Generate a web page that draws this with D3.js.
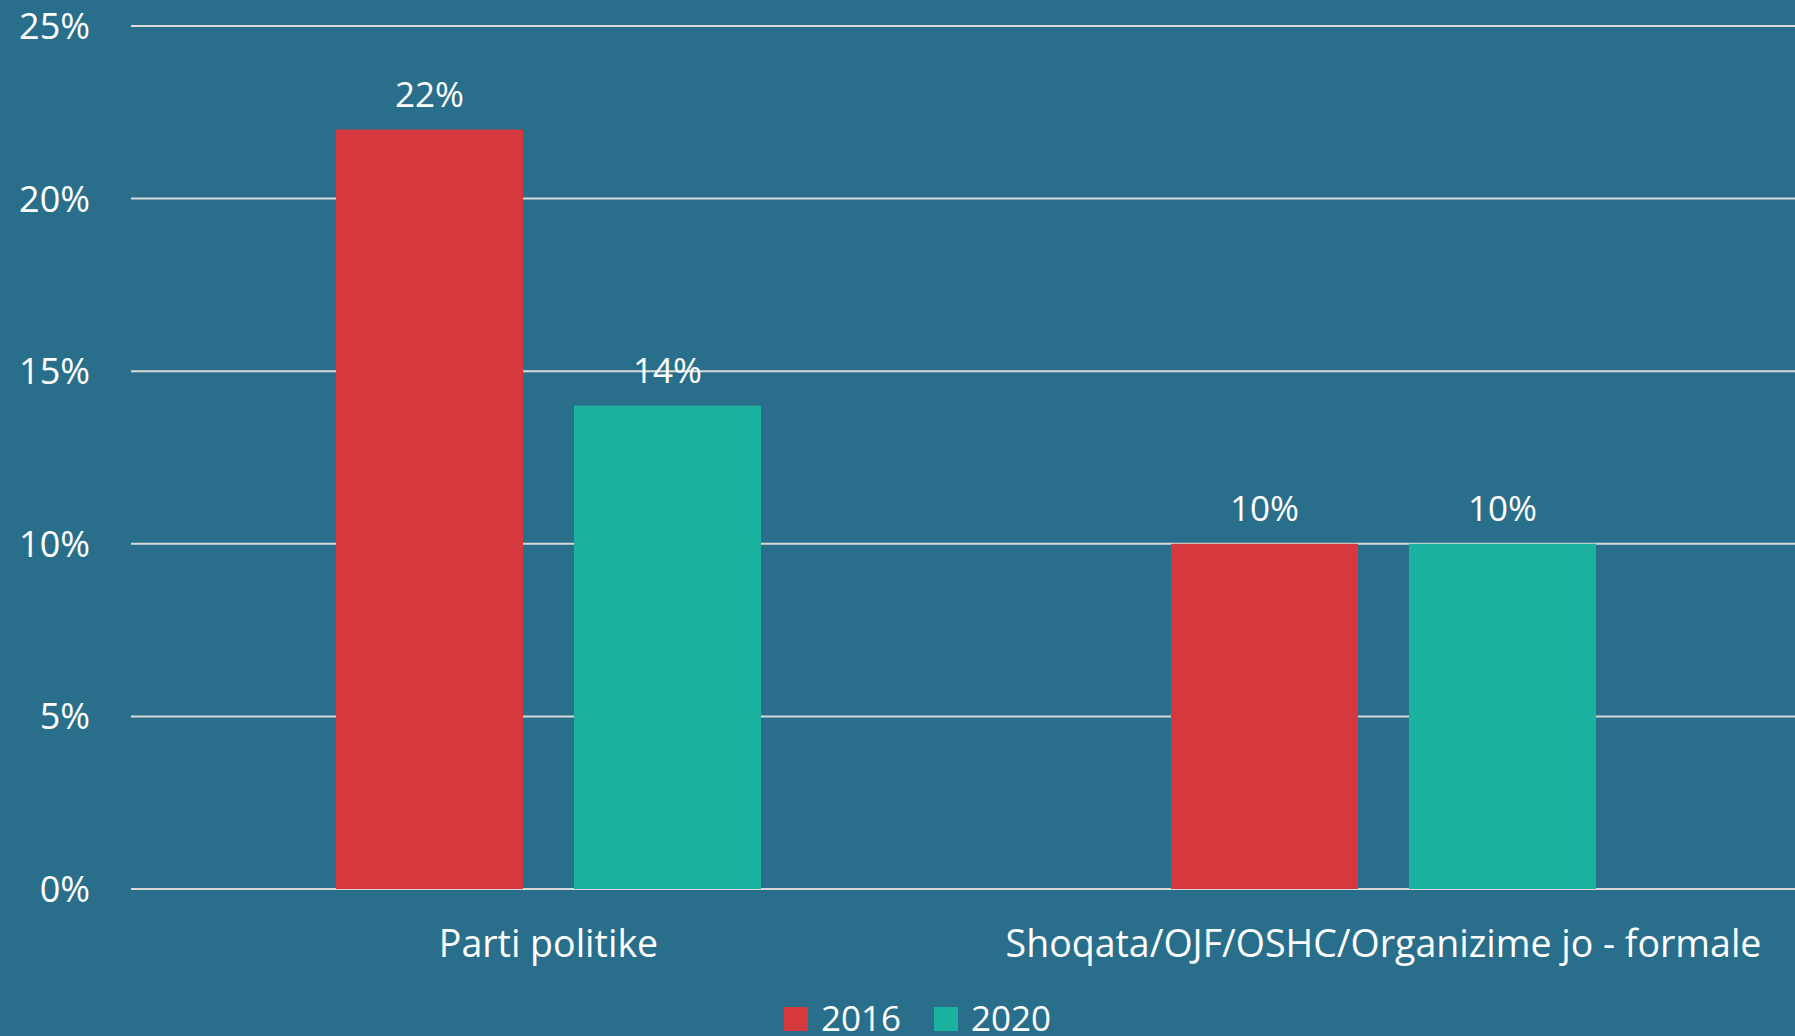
<!DOCTYPE html>
<html>
<head>
<meta charset="utf-8">
<script src="https://cdn.jsdelivr.net/npm/d3@7"></script>
<style>
  html, body { margin: 0; padding: 0; background: #296f8b; overflow: hidden; }
  svg { display: block; font-family: 'Open Sans', sans-serif; }
  .tick-label, .value-label, .cat-label, .legend-label { fill: #ffffff; }
</style>
</head>
<body>
<script>
const categories = ['Parti politike', 'Shoqata/OJF/OSHC/Organizime jo - formale'];
const series = ['2016', '2020'];
const values2016 = [22, 10];
const values2020 = [14, 10];
const yTicks = [0, 5, 10, 15, 20, 25];
const colors = ['#d5393e', '#1bb3a0'];

const width = 1795;
const height = 1036;

const svg = d3.select('body')
  .append('svg')
    .attr('width', width)
    .attr('height', height);

svg.append('rect')
  .attr('width', width)
  .attr('height', height)
  .attr('fill', '#296f8b');

const yScale = d3.scaleLinear()
  .domain([0, 25])
  .range([889, 26]);

const x0 = d3.scaleBand()
  .domain(categories)
  .range([131, 1801]);

const groupPad = (x0.bandwidth() - 425) / 2;
const x1 = d3.scaleBand()
  .domain(series)
  .range([groupPad, x0.bandwidth() - groupPad])
  .paddingInner(0.214);

// grid lines
svg.append('g')
  .selectAll('line')
  .data(yTicks)
  .enter()
  .append('line')
    .attr('x1', 131)
    .attr('x2', width)
    .attr('y1', d => yScale(d))
    .attr('y2', d => yScale(d))
    .attr('stroke', '#d9d9d9')
    .attr('stroke-width', 2);

// y labels
svg.append('g')
  .selectAll('text')
  .data(yTicks)
  .enter()
  .append('text')
    .attr('class', 'tick-label')
    .attr('x', 90)
    .attr('y', d => yScale(d) + 13)
    .attr('text-anchor', 'end')
    .attr('font-size', 36)
    .text(d => `${d}%`);

const rows = categories.map((c, i) => ({
  category: c,
  vals: [values2016[i], values2020[i]]
}));

const groups = svg.append('g')
  .selectAll('g')
  .data(rows)
  .enter()
  .append('g')
    .attr('transform', d => `translate(${x0(d.category)},0)`);

groups.selectAll('rect')
  .data(d => d.vals.map((v, j) => ({ key: series[j], value: v, j })))
  .enter()
  .append('rect')
    .attr('x', d => x1(d.key))
    .attr('y', d => yScale(d.value))
    .attr('width', x1.bandwidth())
    .attr('height', d => yScale(0) - yScale(d.value))
    .attr('fill', d => colors[d.j]);

groups.selectAll('text.value-label')
  .data(d => d.vals.map((v, j) => ({ key: series[j], value: v })))
  .enter()
  .append('text')
    .attr('class', 'value-label')
    .attr('x', d => x1(d.key) + x1.bandwidth() / 2)
    .attr('y', d => yScale(d.value) - 23)
    .attr('text-anchor', 'middle')
    .attr('font-size', 35)
    .text(d => `${d.value}%`);

// category labels
svg.append('g')
  .selectAll('text')
  .data(categories)
  .enter()
  .append('text')
    .attr('class', 'cat-label')
    .attr('x', d => x0(d) + x0.bandwidth() / 2)
    .attr('y', 957)
    .attr('text-anchor', 'middle')
    .attr('font-size', 37.5)
    .text(d => d);

// legend
const legendX = [784, 934];
const legend = svg.append('g')
  .selectAll('g')
  .data(series)
  .enter()
  .append('g')
    .attr('transform', (d, i) => `translate(${legendX[i]},1007)`);

legend.append('rect')
  .attr('width', 24)
  .attr('height', 24)
  .attr('fill', (d, i) => colors[i]);

legend.append('text')
  .attr('class', 'legend-label')
  .attr('x', 37)
  .attr('y', 24)
  .attr('font-size', 35)
  .text(d => d);
</script>
</body>
</html>
